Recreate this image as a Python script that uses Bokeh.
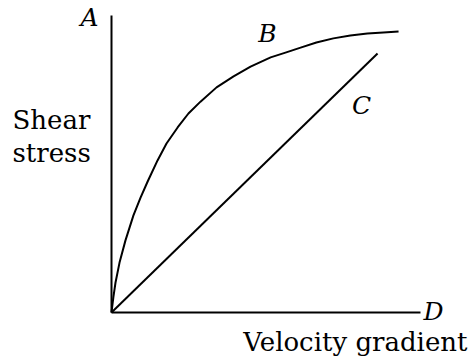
from bokeh.plotting import figure
from bokeh.models import Range1d, Label
from bokeh.embed import file_html
from bokeh.resources import INLINE

# Axes extent (data units)
axis_x = [0, 10]
axis_y = [0, 10]
# Curve B (shear stress vs velocity gradient)
b_x = [0.0, 0.06, 0.13, 0.26, 0.45, 0.71, 0.94, 1.17, 1.49, 1.78, 2.14, 2.49, 2.88,
       3.40, 3.95, 4.50, 5.15, 5.63, 6.12, 6.63, 7.18, 7.73, 8.28, 8.80, 9.29]
b_y = [0.0, 0.51, 1.01, 1.68, 2.42, 3.27, 3.87, 4.41, 5.12, 5.69, 6.23, 6.70, 7.10,
       7.58, 7.95, 8.28, 8.59, 8.75, 8.92, 9.09, 9.23, 9.33, 9.39, 9.43, 9.46]
# Line C (Newtonian)
c_x = [0.0, 8.61]
c_y = [0.0, 8.72]

y_label_lines = ["Shear", "stress"]
x_label = "Velocity gradient"
point_labels = ["A", "B", "C", "D"]

W, H = 471, 360
SX, SY = 30.9, 29.7      # pixels per data unit
OX, OY = 111, 312        # origin position in pixels
p = figure(width=W, height=H, output_backend="svg", toolbar_location=None,
           x_range=Range1d(-OX / SX, (W - OX) / SX),
           y_range=Range1d(-(H - OY) / SY, OY / SY),
           min_border=0)
p.outline_line_color = None
p.grid.visible = False
p.axis.visible = False
p.background_fill_color = "white"
p.border_fill_color = "white"

# axes lines
p.line([axis_x[0], axis_x[1]], [0, 0], line_width=2, line_color="black")
p.line([0, 0], [axis_y[0], axis_y[1]], line_width=2, line_color="black")

p.line(b_x, b_y, line_width=2, line_color="black", line_join="round")
p.line(c_x, c_y, line_width=2, line_color="black")

FONT = "DejaVu Serif"

def lab(text, px, py, align="left", style="normal", size="26px", baseline="alphabetic"):
    # px, py: pixel positions from the top-left of the picture
    p.add_layout(Label(x=px, y=H - py, x_units="screen", y_units="screen",
                       text=text, text_font=FONT, text_font_size=size,
                       text_font_style=style, text_align=align,
                       text_baseline=baseline, text_color="black"))

lab(y_label_lines[0], 12, 119)
lab(y_label_lines[1], 12, 152)
lab(x_label, 467, 341, align="right")
lab(point_labels[0], 89, 17, align="center", style="italic", size="25px", baseline="middle")
lab(point_labels[1], 267, 33, align="center", style="italic", size="25px", baseline="middle")
lab(point_labels[2], 361, 105, align="center", style="italic", size="25px", baseline="middle")
lab(point_labels[3], 433, 311, align="center", style="italic", size="25px", baseline="middle")

open("out.html", "w").write(file_html(p, INLINE))
